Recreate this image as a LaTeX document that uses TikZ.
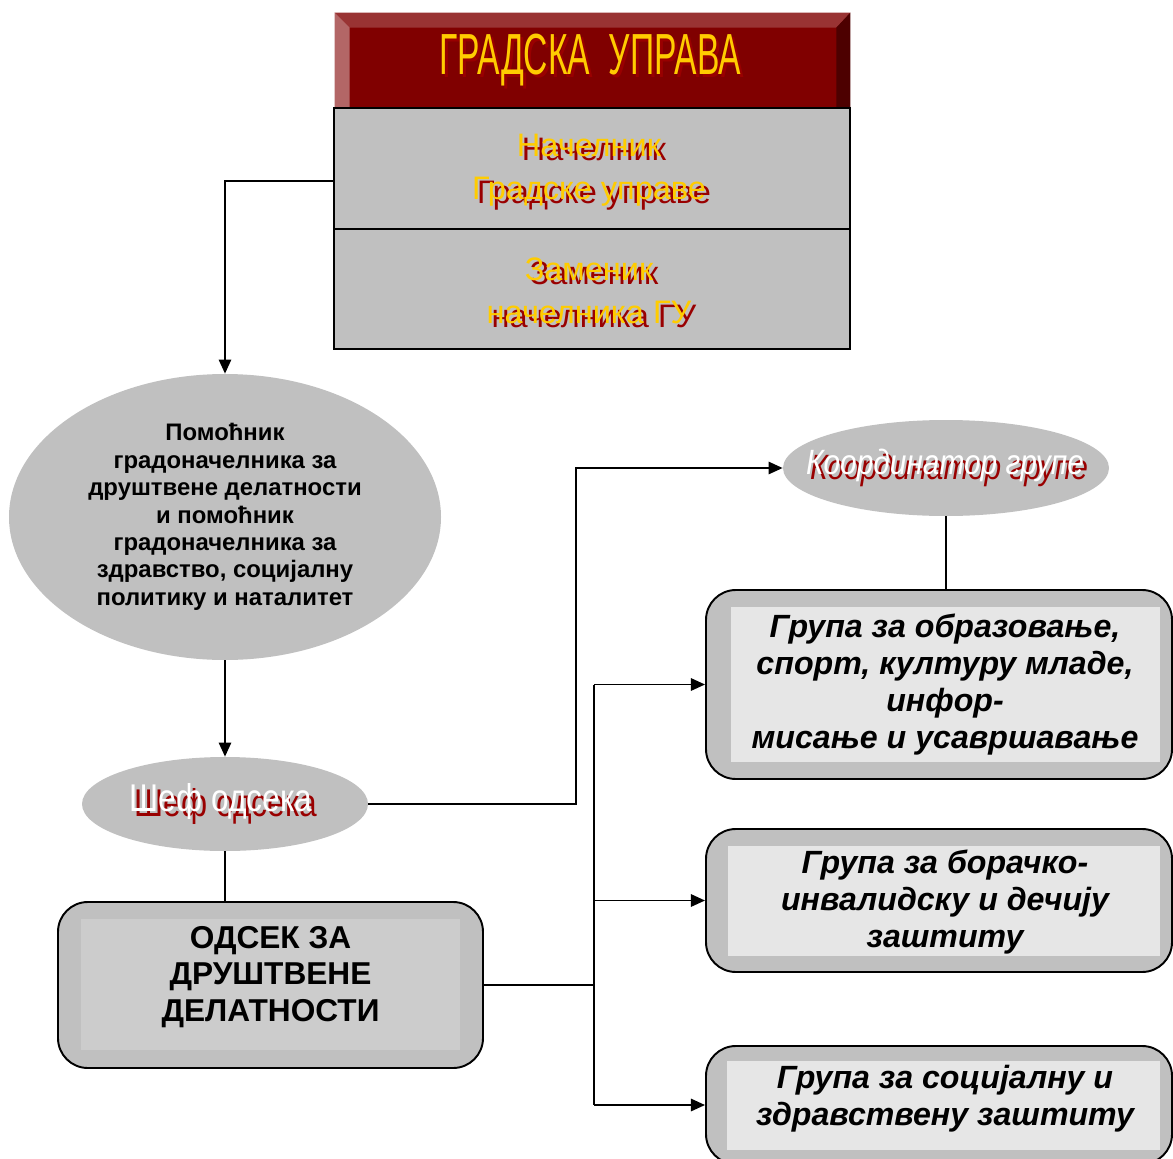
\documentclass[tikz,border=0pt]{standalone}
\usepackage{fontspec}
\setmainfont{Liberation Sans}[Script=Cyrillic]
\usepackage{graphicx}
\usepackage{tikz}
\usetikzlibrary{calc,arrows.meta,shapes.geometric}
\definecolor{boxgray}{HTML}{C0C0C0}
\definecolor{innerdark}{HTML}{CCCCCC}
\definecolor{innerlight}{HTML}{E6E6E6}
\definecolor{hdrred}{HTML}{800000}
\definecolor{hdrtop}{HTML}{993333}
\definecolor{hdrleft}{HTML}{B36666}
\definecolor{hdrright}{HTML}{4D0000}
\definecolor{gold}{HTML}{FFCC00}
\definecolor{shade}{HTML}{990000}
\newdimen\px \px=0.02cm
\tikzset{
  ln/.style={draw=black, line width=1.1pt},
  arr/.style={ln, -{Triangle[length=8pt,width=7pt]}},
  hdr/.style={fill=hdrred, minimum width=515*\px, minimum height=95*\px, inner sep=0pt},
  rowbox/.style={draw=black, line width=1.1pt, fill=boxgray, minimum width=516*\px, inner sep=0pt},
  oval/.style={ellipse, fill=boxgray, inner sep=0pt},
  unit/.style={draw=black, line width=1.1pt, fill=boxgray, rounded corners=17pt, inner sep=0pt},
  pane/.style={inner sep=0pt},
  goldtxt/.style={text=gold, align=center, font=\fontsize{18.5}{24.5}\selectfont},
  shadetxt/.style={goldtxt, text=shade},
  grptxt/.style={align=center, font=\fontsize{18.3}{21}\selectfont\bfseries\itshape},
}
\begin{document}
\begin{tikzpicture}[x=0.02cm, y=-0.02cm]
  \useasboundingbox (0,0) rectangle (1173,1159);
  \clip (0,0) rectangle (1173,1159);
  % header with bevel
  \node[hdr] (hdr) at (592.5,60.5) {};
  \fill[hdrtop] (hdr.north west) -- (hdr.north east) -- ++(-14,15) -- ($(hdr.north west)+(15,15)$) -- cycle;
  \fill[hdrleft] (hdr.north west) -- ++(15,15) -- ($(hdr.south west)+(15,0)$) -- (hdr.south west) -- cycle;
  \fill[hdrright] (hdr.north east) -- ++(-14,15) -- ($(hdr.south east)+(-14,0)$) -- (hdr.south east) -- cycle;
  \node[text=shade, font=\fontsize{33}{36}\selectfont] (hdr-s) at (593,63) {\scalebox{0.58}[1]{ГРАДСКА\ \ УПРАВА}};
  \node[text=gold, font=\fontsize{33}{36}\selectfont] (hdr-t) at (590,60) {\scalebox{0.58}[1]{ГРАДСКА\ \ УПРАВА}};
  % chief and deputy
  \node[rowbox, minimum height=121*\px] (gu) at (592,168.5) {};
  \node[rowbox, minimum height=120*\px] (zam) at (592,289) {};
  \node[shadetxt] (gu-s) at (594,174) {Начелник\\Градске управе};
  \node[goldtxt] (gu-t) at (589,170) {Начелник\\Градске управе};
  \node[shadetxt] (zam-s) at (594,295) {Заменик\\начелника ГУ};
  \node[goldtxt] (zam-t) at (589,291) {Заменик\\начелника ГУ};
  % ovals
  \node[oval, minimum width=432*\px, minimum height=286*\px, align=center,
    font=\fontsize{13.6}{15.6}\selectfont\bfseries] (pom) at (225,517)
    {Помоћник\\градоначелника за\\друштвене делатности\\и помоћник\\градоначелника за\\здравство, социјалну\\политику и наталитет};
  \node[oval, minimum width=286*\px, minimum height=94*\px] (sef) at (225,804) {};
  \node[text=shade, font=\fontsize{22}{24}\selectfont] (sef-s) at (226,806) {\scalebox{0.82}[1]{Шеф одсека}};
  \node[text=white, font=\fontsize{22}{24}\selectfont] (sef-t) at (221,801) {\scalebox{0.82}[1]{Шеф одсека}};
  \node[oval, minimum width=326*\px, minimum height=96*\px] (koord) at (946,468) {};
  \node[text=shade, font=\fontsize{20}{22}\selectfont\itshape] (koord-s) at (949,470) {\scalebox{0.85}[1]{Координатор групе}};
  \node[text=white, font=\fontsize{20}{22}\selectfont\itshape] (koord-t) at (945,465) {\scalebox{0.85}[1]{Координатор групе}};
  % section and groups
  \node[unit, minimum width=425*\px, minimum height=166*\px] (odsek) at (270.5,985) {};
  \node[pane, fill=innerdark, minimum width=379*\px, minimum height=131*\px] (odsek-in) at (270.5,984.5) {};
  \node[align=center, font=\fontsize{18}{21}\selectfont\bfseries] (odsek-txt) at (270.5,977)
    {ОДСЕК ЗА\\ДРУШТВЕНЕ\\ДЕЛАТНОСТИ};
  \node[unit, minimum width=466*\px, minimum height=189*\px] (g1) at (939,684.5) {};
  \node[pane, fill=innerlight, minimum width=429*\px, minimum height=155*\px] (g1-in) at (945.5,684.5) {};
  \node[grptxt] (g1-txt) at (945,684.5)
    {Група за образовање,\\спорт, културу младе,\\инфор-\\мисање и усавршавање};
  \node[unit, minimum width=466*\px, minimum height=143*\px] (g2) at (939,900.5) {};
  \node[pane, fill=innerlight, minimum width=432*\px, minimum height=110*\px] (g2-in) at (944,901) {};
  \node[grptxt] (g2-txt) at (945,902) {Група за борачко-\\инвалидску и дечију\\заштиту};
  \node[unit, minimum width=466*\px, minimum height=118*\px] (g3) at (939,1105) {};
  \node[pane, fill=innerlight, minimum width=433*\px, minimum height=89*\px] (g3-in) at (943.5,1105.5) {};
  \node[grptxt] (g3-txt) at (945,1099) {Група за социјалну и\\здравствену заштиту};
  % connectors
  \coordinate (kx) at (576,468);
  \coordinate (bus) at (594,985);
  \draw[arr] ([yshift=-7pt]gu.west) -| (pom.north);
  \draw[arr] (pom.south) -- (sef.north);
  \draw[ln] (sef.south) -- (sef.south |- odsek.north);
  \draw[arr] (sef.east) -| (kx) -- (koord.west);
  \draw[ln] (koord.south) -- (koord.south |- g1.north);
  \draw[ln] (odsek.east) -- (bus);
  \draw[ln] (bus |- g1.west) -- (bus |- g3.west);
  \foreach \g in {g1,g2,g3}
    \draw[arr] (bus |- \g.west) -- (\g.west);
\end{tikzpicture}
\end{document}
